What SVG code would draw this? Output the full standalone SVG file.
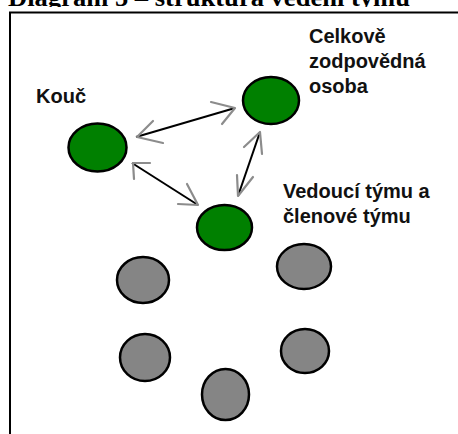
<svg xmlns="http://www.w3.org/2000/svg" width="458" height="434" viewBox="0 0 458 434">
  <style>
    .title { font-family: "Liberation Serif", "Times New Roman", serif; font-weight: bold; font-size: 26px; fill: #000; }
    .label { font-family: "Liberation Sans", Arial, sans-serif; font-weight: bold; font-size: 20px; fill: #111; }
    .lead { fill: #008000; stroke: #000; stroke-width: 2.5; }
    .member { fill: #858585; stroke: #000; stroke-width: 2.5; }
    .link { stroke: #000; stroke-width: 2; fill: none; }
    .head { stroke: #8c8c8c; stroke-width: 2.2; fill: none; stroke-linecap: round; stroke-linejoin: round; }
  </style>
  <defs>
    <!-- the heading is cut off at the top of the frame -->
    <clipPath id="titleClip">
      <rect x="0" y="0" width="458" height="7"/>
    </clipPath>
  </defs>

  <rect x="0" y="0" width="458" height="434" fill="#fff"/>

  <!-- heading -->
  <g id="title" clip-path="url(#titleClip)">
    <text class="title" x="8" y="6" textLength="402" lengthAdjust="spacingAndGlyphs">Diagram 5 – struktura vedení týmu</text>
  </g>

  <!-- frame (top and left edges) -->
  <path d="M10,434 V12.5 H458" fill="none" stroke="#000" stroke-width="2"/>

  <!-- connectors: black line with grey open heads at both ends -->
  <g id="connectors">
    <line class="link" x1="136" y1="137" x2="235" y2="108"/>
    <polyline class="head" points="153,121 137,137 163,143"/>
    <polyline class="head" points="211,102 235,108 222,124"/>

    <line class="link" x1="132" y1="163" x2="198" y2="205"/>
    <polyline class="head" points="150,163 133,163 134,179"/>
    <polyline class="head" points="178,204 198,205 187,184"/>

    <line class="link" x1="260" y1="132" x2="238" y2="196"/>
    <polyline class="head" points="244,147 260,132 262,154"/>
    <polyline class="head" points="237,175 238,196 253,177"/>
  </g>

  <!-- leadership roles -->
  <g id="kouc">
    <ellipse class="lead" cx="97.5" cy="147.5" rx="29" ry="24"/>
    <text class="label" x="36" y="103">Kouč</text>
  </g>
  <g id="celkove-zodpovedna-osoba">
    <ellipse class="lead" cx="271" cy="100.5" rx="28" ry="23.5"/>
    <text class="label" x="309" y="43">Celkově</text>
    <text class="label" x="309" y="68">zodpovědná</text>
    <text class="label" x="309" y="93">osoba</text>
  </g>
  <g id="vedouci-tymu">
    <ellipse class="lead" cx="224.5" cy="227.5" rx="27.5" ry="22.5"/>
    <text class="label" x="283" y="198">Vedoucí týmu a</text>
    <text class="label" x="283" y="223">členové týmu</text>
  </g>

  <!-- team members -->
  <g id="clen-1"><ellipse class="member" cx="143" cy="280" rx="26" ry="23"/></g>
  <g id="clen-2"><ellipse class="member" cx="304" cy="266.5" rx="27" ry="22.5"/></g>
  <g id="clen-3"><ellipse class="member" cx="145" cy="357.5" rx="25" ry="23.5"/></g>
  <g id="clen-4"><ellipse class="member" cx="305" cy="351" rx="24" ry="22"/></g>
  <g id="clen-5"><ellipse class="member" cx="225.5" cy="394.5" rx="23.5" ry="25.5"/></g>
</svg>
